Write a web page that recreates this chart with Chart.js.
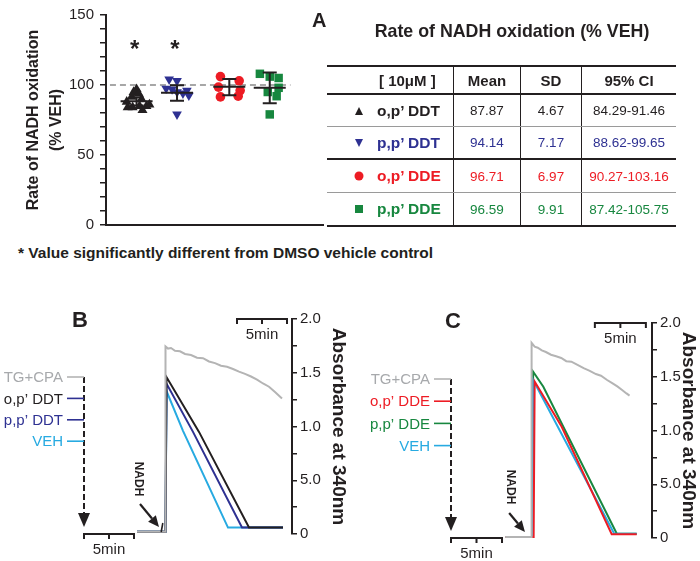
<!DOCTYPE html>
<html><head><meta charset="utf-8">
<script src="https://cdn.jsdelivr.net/npm/chart.js@4.4.1/dist/chart.umd.min.js"></script>
<style>
html,body{margin:0;padding:0;background:#fff;}
#wrap{position:relative;width:700px;height:561px;overflow:hidden;font-family:'Liberation Sans',Arial,sans-serif;color:#231f20;}
canvas{position:absolute;}
.abs{position:absolute;white-space:nowrap;line-height:1;}
#tbl{position:absolute;left:327px;top:65px;width:349px;border-top:2px solid #231f20;box-sizing:border-box;}
.row{display:flex;box-sizing:border-box;}
.cell{box-sizing:border-box;display:flex;align-items:center;justify-content:center;font-size:13.5px;}
.cell+.cell{border-left:1.5px solid #231f20;}
.c0{width:126px;justify-content:flex-start;position:relative;font-weight:bold;font-size:15.5px;}
.c1{width:67px;}.c2{width:61px;}.c3{width:95px;}
.hdr .cell{font-weight:bold;font-size:15px;}
.sym{position:absolute;left:32px;top:50%;transform:translate(-50%,-50%);}
</style></head>
<body><div id="wrap">
<canvas id="cA" width="330" height="240" style="left:0;top:0"></canvas>
<div class="abs" style="left:312px;top:9.5px;font-size:20px;font-weight:bold;">A</div>
<div class="abs" id="ttl" style="left:512px;top:23px;transform:translateX(-50%);font-size:17.8px;font-weight:bold;"></div>
<div id="tbl"></div>
<div class="abs" id="foot" style="left:18px;top:244.5px;font-size:15.5px;font-weight:bold;"></div>
<canvas id="cB" width="350" height="281" style="left:0;top:280px"></canvas>
<canvas id="cC" width="350" height="281" style="left:350px;top:280px"></canvas>
<div class="abs" style="left:72px;top:309px;font-size:22px;font-weight:bold;">B</div>
<div class="abs" style="left:445px;top:310px;font-size:22px;font-weight:bold;">C</div>
</div>
<script>
// ---------------- DATA ----------------
const groups = ["o,p\u2019 DDT", "p,p\u2019 DDT", "o,p\u2019 DDE", "p,p\u2019 DDE"];
const groupX = [31, 72, 125, 166];
const opDDTvals = [88, 91.5, 95, 97, 94, 90, 82, 85, 86, 84, 84, 85];
const opDDTjit  = [-10, -5, -3, 0, 2, 5, 6, 10, 13, -9, -4, 3];
const ppDDTvals = [104, 103, 97.5, 97, 96, 95, 94, 92.5, 79];
const ppDDTjit  = [-8, 0, -11, -5, 10, 0, 6, 12, 0];
const opDDEvals = [106, 103, 98.5, 96, 91.5, 92];
const opDDEjit  = [-9, 10, -11, 11, -9, 9];
const ppDDEvals = [108, 106, 105, 98, 95, 92, 79];
const ppDDEjit  = [-10, 0, 9, 9, -2, 7, 0];
const plotMeans = [88.4, 94.4, 98.8, 98.1];
const errLow    = [85.4, 88.7, 92.6, 87.0];
const errHigh   = [91.3, 99.8, 104.2, 109.0];
const significant = [true, true, false, false];
const yTicksA = [0, 50, 100, 150];
const refLevel = 100;

const tableTitle = "Rate of NADH oxidation (% VEH)";
const tableHeader = ["[ 10\u03bcM ]", "Mean", "SD", "95% CI"];
const tableMean = ["87.87", "94.14", "96.71", "96.59"];
const tableSD   = ["4.67", "7.17", "6.97", "9.91"];
const tableCI   = ["84.29-91.46", "88.62-99.65", "90.27-103.16", "87.42-105.75"];
const footnote = "* Value significantly different from DMSO vehicle control";

// Panel B traces (time in min, absorbance)
const bNames = ["TG+CPA", "o,p\u2019 DDT", "p,p\u2019 DDT", "VEH"];
const bTimeTG = [5.3, 8.1, 8.15, 8.4, 8.7, 9.1, 9.6, 10.1, 10.7, 11.3, 11.9, 12.5, 13.1, 13.7, 14.3, 14.9, 15.5, 16.1, 16.7, 17.3, 17.9, 18.5, 19.1, 19.8];
const bTG     = [0.02, 0.02, 1.745, 1.725, 1.73, 1.705, 1.70, 1.675, 1.665, 1.64, 1.635, 1.605, 1.59, 1.565, 1.555, 1.535, 1.51, 1.49, 1.465, 1.435, 1.40, 1.37, 1.32, 1.26];
const bTimeOpDDT = [5.3, 8.15, 8.25, 11.5, 16.5, 19.9];
const bOpDDT     = [0.02, 0.02, 1.46, 0.95, 0.06, 0.06];
const bTimePpDDT = [5.3, 8.15, 8.25, 10.9, 15.8, 19.9];
const bPpDDT     = [0.02, 0.02, 1.40, 0.95, 0.06, 0.06];
const bTimeVEH   = [5.3, 8.15, 8.25, 9.9, 14.4, 19.9];
const bVEH       = [0.02, 0.02, 1.33, 0.96, 0.06, 0.06];

// Panel C traces
const cNames = ["TG+CPA", "o,p\u2019 DDE", "p,p\u2019 DDE", "VEH"];
const cTimeTG = [5.3, 7.85, 7.9, 8.2, 8.5, 8.9, 9.3, 9.8, 10.3, 10.8, 11.3, 11.8, 12.4, 13.0, 13.6, 14.2, 14.7, 15.3, 15.8, 16.3, 16.8, 17.2, 17.5];
const cTG     = [0.01, 0.01, 1.815, 1.78, 1.77, 1.745, 1.73, 1.705, 1.69, 1.675, 1.645, 1.64, 1.61, 1.58, 1.555, 1.525, 1.51, 1.47, 1.44, 1.41, 1.375, 1.345, 1.325];
const cTimeOpDDE = [5.3, 8.1, 8.2, 10.85, 15.75, 18.2];
const cOpDDE     = [0.01, 0.01, 1.455, 1.035, 0.035, 0.035];
const cTimePpDDE = [5.3, 7.95, 8.05, 9.05, 16.25, 18.2];
const cPpDDE     = [0.01, 0.01, 1.547, 1.407, 0.04, 0.04];
const cTimeVEH   = [5.3, 7.95, 8.05, 16.0, 18.2];
const cVEH       = [0.01, 0.01, 1.47, 0.04, 0.04];

const absTickLabels = ["0", "5.0", "1.0", "1.5", "2.0"];
const scaleBarLabel = "5min";
const addLabel = "NADH";
const absTitle = "Absorbance at 340nm";

// ---------------- STYLE ----------------
const INK = '#231f20', BLUE = '#2e3192', RED = '#ed1c24', GREEN = '#17873f', CYAN = '#27aae1', GRAY = '#b4b4b4';
const FONT = "'Liberation Sans', Arial, sans-serif";
Chart.defaults.font.family = FONT;
Chart.defaults.color = INK;
const groupColors = [INK, BLUE, RED, GREEN];

// ---------------- TEXT / TABLE ----------------
document.getElementById('ttl').textContent = tableTitle;
document.getElementById('foot').textContent = footnote;
(function buildTable(){
  const t = document.getElementById('tbl');
  const rowH = [28, 32, 33, 33, 34];
  const rowB = ['2px solid '+INK, '1px solid #9a9a9a', '2px solid '+INK, '1px solid #9a9a9a', '2px solid '+INK];
  const mk = (cls, h, b) => { const r = document.createElement('div'); r.className = 'row ' + cls; r.style.height = h + 'px'; r.style.borderBottom = b; t.appendChild(r); return r; };
  const cell = (r, cls, txt, color) => { const c = document.createElement('div'); c.className = 'cell ' + cls; if (txt !== null) { const s = document.createElement('span'); s.textContent = txt; c.appendChild(s);} if (color) c.style.color = color; r.appendChild(c); return c; };
  const h = mk('hdr', rowH[0], rowB[0]);
  const h0 = cell(h, 'c0', null); const hs = document.createElement('span'); hs.textContent = tableHeader[0]; hs.style.marginLeft = '52px'; h0.appendChild(hs);
  cell(h, 'c1', tableHeader[1]); cell(h, 'c2', tableHeader[2]); cell(h, 'c3', tableHeader[3]);
  const shapes = [
    'width:0;height:0;border-left:4.5px solid transparent;border-right:4.5px solid transparent;border-bottom:8px solid ',
    'width:0;height:0;border-left:4.5px solid transparent;border-right:4.5px solid transparent;border-top:8px solid ',
    'width:9px;height:9px;border-radius:50%;background:',
    'width:8px;height:8px;background:'
  ];
  groups.forEach((g, i) => {
    const r = mk('', rowH[i+1], rowB[i+1]);
    const c0 = cell(r, 'c0', null, groupColors[i]);
    const sym = document.createElement('span'); sym.className = 'sym'; sym.style.cssText += shapes[i] + groupColors[i] + ';';
    c0.appendChild(sym);
    const lab = document.createElement('span'); lab.textContent = g; lab.style.marginLeft = '50px'; c0.appendChild(lab);
    cell(r, 'c1', tableMean[i], groupColors[i]);
    cell(r, 'c2', tableSD[i], groupColors[i]);
    cell(r, 'c3', tableCI[i], groupColors[i]);
  });
})();

// ---------------- PANEL A ----------------
const valsA = [opDDTvals, ppDDTvals, opDDEvals, ppDDEvals];
const jitA = [opDDTjit, ppDDTjit, opDDEjit, ppDDEjit];
const styleA = [
  {pointStyle: 'triangle', rotation: 0, radius: 5.8},
  {pointStyle: 'triangle', rotation: 180, radius: 5.6},
  {pointStyle: 'circle', rotation: 0, radius: 4.8},
  {pointStyle: 'rect', rotation: 0, radius: 6}
];
const errPlugin = {
  id: 'errPlugin',
  beforeDatasetsDraw(chart) {
    const {ctx, chartArea: a, scales: {x, y}} = chart;
    ctx.save();
    ctx.strokeStyle = '#8a8a8a'; ctx.lineWidth = 1.3; ctx.setLineDash([6, 4]);
    const yr = y.getPixelForValue(refLevel);
    ctx.beginPath(); ctx.moveTo(x.getPixelForValue(4), yr); ctx.lineTo(x.getPixelForValue(187), yr); ctx.stroke();
    ctx.restore();
  },
  afterDatasetsDraw(chart) {
    const {ctx, chartArea: a, scales: {x, y}} = chart;
    ctx.save();
    ctx.strokeStyle = INK; ctx.lineWidth = 2;
    groupX.forEach((gx, i) => {
      const px = x.getPixelForValue(gx);
      const ym = y.getPixelForValue(plotMeans[i]), yl = y.getPixelForValue(errLow[i]), yh = y.getPixelForValue(errHigh[i]);
      ctx.beginPath();
      ctx.moveTo(px - 16, ym); ctx.lineTo(px + 16, ym);
      ctx.moveTo(px, yl); ctx.lineTo(px, yh);
      ctx.moveTo(px - 7, yl); ctx.lineTo(px + 7, yl);
      ctx.moveTo(px - 7, yh); ctx.lineTo(px + 7, yh);
      ctx.stroke();
      if (significant[i]) {
        ctx.fillStyle = INK; ctx.font = 'bold 24px ' + FONT; ctx.textAlign = 'center'; ctx.textBaseline = 'alphabetic';
        ctx.fillText('*', px - 2, y.getPixelForValue(120));
      }
    });
    // x axis line
    ctx.beginPath(); ctx.moveTo(a.left - 1, a.bottom); ctx.lineTo(a.right, a.bottom); ctx.stroke();
    ctx.restore();
  }
};
new Chart(document.getElementById('cA'), {
  type: 'scatter',
  data: {
    datasets: groups.map((g, i) => ({
      label: g,
      data: valsA[i].map((v, k) => ({x: groupX[i] + jitA[i][k], y: v})),
      backgroundColor: groupColors[i], borderWidth: 0,
      pointStyle: styleA[i].pointStyle, rotation: styleA[i].rotation, pointRadius: styleA[i].radius
    }))
  },
  options: {
    responsive: false, animation: false, devicePixelRatio: 1,
    layout: {padding: {left: 0, right: 3, top: 10, bottom: 14}},
    plugins: {legend: {display: false}, tooltip: {enabled: false}},
    scales: {
      x: {type: 'linear', min: 0, max: 221, display: false},
      y: {
        min: 0, max: 150,
        afterFit(s) { s.width = 106; },
        ticks: {stepSize: 10, autoSkip: false, padding: 6, color: INK, font: {size: 15},
                callback: v => yTicksA.includes(v) ? String(v) : ''},
        grid: {drawOnChartArea: false, drawTicks: true, tickLength: 6, color: INK, lineWidth: 1.5},
        border: {display: true, color: INK, width: 2},
        title: {display: true, text: ['Rate of NADH oxidation', '(% VEH)'], color: INK,
                font: {size: 16, weight: 'bold', lineHeight: 1.38}, padding: {top: 23, bottom: 0}}
      }
    }
  },
  plugins: [errPlugin]
});

// ---------------- PANELS B & C ----------------
const annotPlugin = {
  id: 'annot',
  afterDraw(chart, args, o) {
    const {ctx, chartArea: a, scales: {x, y}} = chart;
    ctx.save();
    const x0 = x.getPixelForValue(0);
    const ys = o.names.map((_, i) => a.top + o.legendTop + i * o.legendGap);
    // dashed arrow
    ctx.strokeStyle = INK; ctx.lineWidth = 2; ctx.setLineDash([6, 3]);
    ctx.beginPath(); ctx.moveTo(x0, ys[0]); ctx.lineTo(x0, a.bottom - 19); ctx.stroke();
    ctx.setLineDash([]);
    ctx.fillStyle = INK;
    ctx.beginPath(); ctx.moveTo(x0 - 6, a.bottom - 21); ctx.lineTo(x0 + 6, a.bottom - 21); ctx.lineTo(x0, a.bottom - 7); ctx.closePath(); ctx.fill();
    // legend
    ctx.font = '15px ' + FONT; ctx.textAlign = 'right'; ctx.textBaseline = 'middle';
    o.names.forEach((n, i) => {
      ctx.fillStyle = o.textColors[i]; ctx.fillText(n, x0 - 21, ys[i] + 1);
      ctx.strokeStyle = o.lineColors[i]; ctx.lineWidth = 1.6;
      ctx.beginPath(); ctx.moveTo(x0 - 17, ys[i]); ctx.lineTo(x0, ys[i]); ctx.stroke();
    });
    // scale bars
    const bar = (t0, t1, yy) => {
      const p0 = x.getPixelForValue(t0), p1 = x.getPixelForValue(t1), pm = (p0 + p1) / 2;
      ctx.strokeStyle = INK; ctx.lineWidth = 2;
      ctx.beginPath(); ctx.moveTo(p0 - 1, yy); ctx.lineTo(p1 + 1, yy);
      [p0, pm, p1].forEach(p => { ctx.moveTo(p, yy); ctx.lineTo(p, yy + 5); });
      ctx.stroke();
      ctx.fillStyle = INK; ctx.font = '15px ' + FONT; ctx.textAlign = 'center'; ctx.textBaseline = 'middle';
      ctx.fillText(scaleBarLabel, pm, yy + 16);
    };
    bar(0, 5, a.bottom);
    bar(o.topBar, o.topBar + 5, a.top);
    // NADH arrow
    const tx = x.getPixelForValue(o.arrowTail[0]), ty = a.bottom - o.arrowTail[1];
    const hx = x.getPixelForValue(o.arrowTip[0]), hy = a.bottom - o.arrowTip[1];
    const ang = Math.atan2(hy - ty, hx - tx);
    const L = 11, W = 5;
    const bx = hx - L * Math.cos(ang), by = hy - L * Math.sin(ang);
    ctx.strokeStyle = INK; ctx.lineWidth = 2.2;
    ctx.beginPath(); ctx.moveTo(tx, ty); ctx.lineTo(bx, by); ctx.stroke();
    ctx.beginPath(); ctx.moveTo(hx, hy);
    ctx.lineTo(bx + W * Math.sin(ang), by - W * Math.cos(ang));
    ctx.lineTo(bx - W * Math.sin(ang), by + W * Math.cos(ang)); ctx.closePath(); ctx.fill();
    ctx.save();
    ctx.translate(x.getPixelForValue(o.labelAt[0]), a.bottom - o.labelAt[1]);
    ctx.rotate(Math.PI / 2);
    ctx.font = 'bold 12px ' + FONT; ctx.textAlign = 'center'; ctx.textBaseline = 'middle';
    ctx.fillText(addLabel, 0, 0);
    ctx.restore();
    if (o.mark) {
      ctx.lineWidth = 1.6; ctx.beginPath();
      ctx.moveTo(x.getPixelForValue(o.mark[0]), a.bottom - 2); ctx.lineTo(x.getPixelForValue(o.mark[1]), a.bottom - 11); ctx.stroke();
    }
    ctx.restore();
  }
};
function pts(t, v) { return t.map((tt, i) => ({x: tt, y: v[i]})); }
function traceChart(id, series, colors, xmax, pad, axisW, annot) {
  return new Chart(document.getElementById(id), {
    type: 'line',
    data: {datasets: series.map((s, i) => ({data: s, borderColor: colors[i], borderWidth: 2, pointRadius: 0, tension: 0, fill: false}))},
    options: {
      responsive: false, animation: false, devicePixelRatio: 1,
      layout: {padding: pad},
      plugins: {legend: {display: false}, tooltip: {enabled: false}, annot: annot},
      scales: {
        x: {type: 'linear', min: 0, max: xmax, display: false},
        y: {
          position: 'right', min: 0, max: 2,
          afterFit(s) { s.width = axisW; },
          ticks: {stepSize: 0.25, autoSkip: false, padding: 3, color: INK, font: {size: 15},
                  callback: v => { const k = Math.round(v / 0.5); return Math.abs(v - k * 0.5) < 1e-6 ? absTickLabels[k] : ''; }},
          grid: {drawOnChartArea: false, drawTicks: true, tickLength: 5, color: INK, lineWidth: 1.5},
          border: {display: true, color: INK, width: 2},
          title: {display: true, text: absTitle, color: INK, font: {size: 19, weight: 'bold'}, padding: {top: 0.6, bottom: 0}}
        }
      }
    },
    plugins: [annotPlugin]
  });
}
traceChart('cB',
  [pts(bTimeTG, bTG), pts(bTimeOpDDT, bOpDDT), pts(bTimePpDDT, bPpDDT), pts(bTimeVEH, bVEH)],
  [GRAY, INK, BLUE, CYAN], 20.8, {left: 84, right: 0, top: 39, bottom: 27}, 58,
  {names: bNames, textColors: ['#a7a9ac', INK, BLUE, CYAN], lineColors: [GRAY, BLUE, BLUE, CYAN],
   legendTop: 58, legendGap: 21.4, topBar: 15.3, arrowTail: [5.6, 30], arrowTip: [7.5, 7], labelAt: [5.4, 55], mark: [7.72, 7.88]});
traceChart('cC',
  [pts(cTimeTG, cTG), pts(cTimeOpDDE, cOpDDE), pts(cTimeVEH, cVEH), pts(cTimePpDDE, cPpDDE)],
  [GRAY, RED, CYAN, GREEN], 19.7, {left: 101, right: 0, top: 43, bottom: 23}, 48,
  {names: cNames, textColors: ['#a7a9ac', RED, GREEN, CYAN], lineColors: [GRAY, RED, GREEN, CYAN],
   legendTop: 56, legendGap: 22.2, topBar: 14.1, arrowTail: [5.7, 25], arrowTip: [7.25, 6], labelAt: [5.8, 51], mark: null});
</script>
</body></html>
